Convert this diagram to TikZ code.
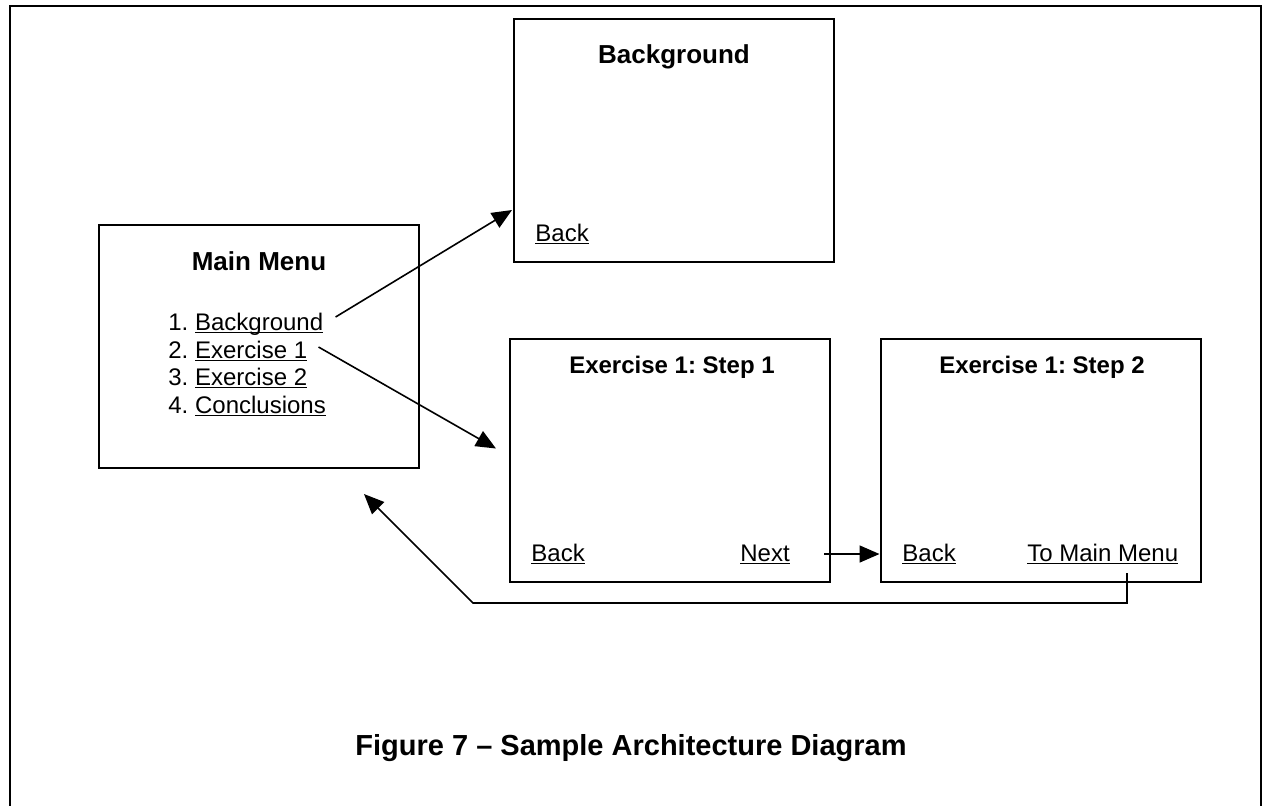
\documentclass[tikz,border=0pt]{standalone}
\usepackage{fontspec}
\setmainfont{Liberation Sans}
\usetikzlibrary{arrows.meta}

% underlined link text
\newcommand{\lnk}[1]{\setbox0=\hbox{#1}\rlap{\rule[-1.6pt]{\wd0}{0.8pt}}\box0}

\begin{document}
\frenchspacing
\begin{tikzpicture}[x=0.5pt,y=-0.5pt,
  font=\fontsize{12}{14}\selectfont,
  screen/.style={draw,line width=1pt,minimum width=160pt,minimum height=121.5pt,inner sep=0pt},
  title/.style={anchor=base,font=\fontsize{13}{15}\selectfont\bfseries},
  steptitle/.style={anchor=base,font=\fontsize{12}{14}\selectfont\bfseries},
  txt/.style={anchor=base west,inner sep=0pt},
  link/.style={line width=0.8pt,-{Triangle[length=10pt,width=8.5pt]}}]
  \useasboundingbox (0,0) rectangle (1262,805);
  % frame, open at the bottom
  \draw[line width=1.3pt] (10,820) -- (10,6) -- (1261,6) -- (1261,820);

  % Main menu screen
  \node[screen] (menu) at (259,346.5) {};
  \node[title] (menutitle) at (259,270) {Main Menu};
  \node[txt] (item1) at (168,330) {1. \lnk{Background}};
  \node[txt] (item2) at (168,358) {2. \lnk{Exercise 1}};
  \node[txt] (item3) at (168,385) {3. \lnk{Exercise 2}};
  \node[txt] (item4) at (168,413) {4. \lnk{Conclusions}};

  % Background screen
  \node[screen] (bg) at (674,140.5) {};
  \node[title] (bgtitle) at (674,63) {Background};
  \node[txt] (bgback) at (535,241) {\lnk{Back}};

  % Exercise 1 screens
  \node[screen] (step1) at (670,460.5) {};
  \node[steptitle] (step1title) at (672,373) {Exercise 1: Step 1};
  \node[txt] (step1back) at (531,561) {\lnk{Back}};
  \node[txt] (next) at (740,561) {\lnk{Next}};

  \node[screen] (step2) at (1040.5,460.5) {};
  \node[steptitle] (step2title) at (1042,373) {Exercise 1: Step 2};
  \node[txt] (step2back) at (902,561) {\lnk{Back}};
  \node[txt] (tomenu) at (1027,561) {\lnk{To Main Menu}};

  % links between screens
  \draw[link] ([shift={(12,-13)}]item1.base east) -- ([shift={(-1,-53)}]bg.south west);
  \draw[link] ([shift={(11,-11)}]item2.base east) -- ([shift={(-13,-12)}]step1.west);
  \draw[link] ([shift={(34,-7)}]next.base east) coordinate (n0) -- (n0 -| step2.west);
  \coordinate (bend) at (473,603);
  \draw[link] ([shift={(100,12)}]tomenu.base west) |- (bend) -- ([shift={(-56,25)}]menu.south east);

  \node[anchor=base,font=\fontsize{14.5}{17}\selectfont\bfseries] (caption) at (631,755)
    {Figure 7 -- Sample Architecture Diagram};
\end{tikzpicture}
\end{document}
